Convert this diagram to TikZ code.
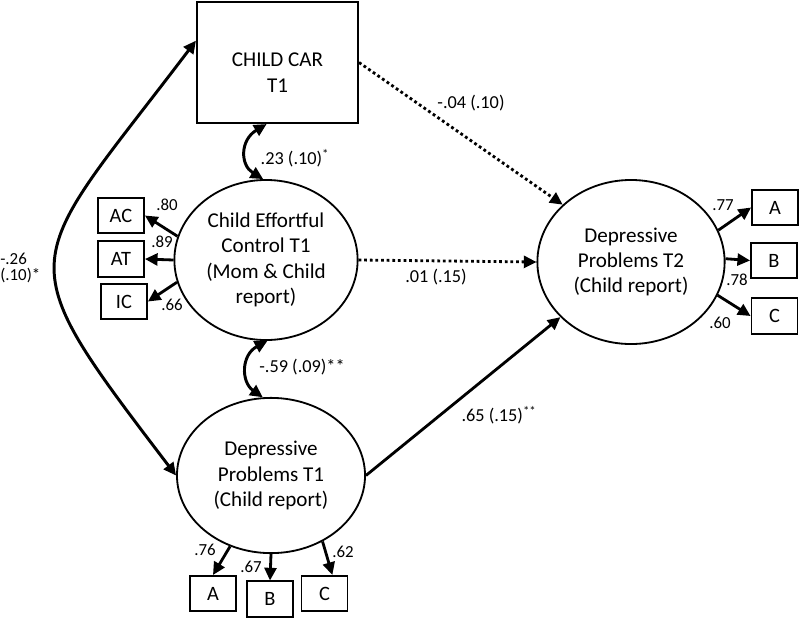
\documentclass[tikz,border=0pt]{standalone}
\usepackage{fontspec}
\setmainfont{Carlito}
\usetikzlibrary{shapes.geometric,arrows.meta}

\begin{document}
\begin{tikzpicture}[
    x=0.025cm, y=-0.025cm,
    latent/.style={ellipse, draw, line width=1.3pt, align=center, inner sep=0pt, font=\fontsize{15}{18}\selectfont},
    indicator/.style={rectangle, draw, line width=1.3pt, inner sep=0pt, minimum width=1.15cm, minimum height=0.88cm, font=\fontsize{14.5}{16}\selectfont},
    regress/.style={draw, line width=2pt, -{Triangle[length=9pt,width=8.5pt]}},
    nonsig/.style={regress, dash pattern=on 2pt off 2pt},
    covar/.style={draw, line width=2.1pt, {Triangle[length=9pt,width=8.5pt]}-{Triangle[length=9pt,width=8.5pt]}},
    loading/.style={regress},
    weight/.style={font=\fontsize{12}{13}\selectfont, inner sep=1pt},
    coef/.style={font=\fontsize{13}{14}\selectfont, inner sep=1pt}
]
\useasboundingbox (0,0) rectangle (800,619);

% Define constructs
\node[draw, line width=1.3pt, minimum width=4.03cm, minimum height=3.03cm, align=center, font=\fontsize{15}{18}\selectfont] (car) at (277.5,62.5) {\rule{0pt}{24pt}CHILD CAR\\T1};
\node[latent, minimum width=4.58cm, minimum height=4cm] (ec) at (266,260) {Child Effortful\\Control T1\\(Mom \& Child\\report)};
\node[latent, minimum width=4.7cm, minimum height=3.88cm] (dp1) at (271,475.5) {Depressive\\Problems T1\\(Child report)};
\node[latent, minimum width=4.68cm, minimum height=4.1cm] (dp2) at (631,262) {Depressive\\Problems T2\\(Child report)};

% Define indicators
\node[indicator] (ac) at (121,215.5) {AC};
\node[indicator] (at) at (121,259) {AT};
\node[indicator] (ic) at (124,301.5) {IC};
\node[indicator] (dp1a) at (213,593.5) {A};
\node[indicator] (dp1b) at (270,599) {B};
\node[indicator] (dp1c) at (324.5,593.5) {C};
\node[indicator] (dp2a) at (775,207.5) {A};
\node[indicator] (dp2b) at (774,260.5) {B};
\node[indicator] (dp2c) at (774.5,316) {C};

% Define loadings
\path[loading] (ec.165) -- (ac.east);
\path[loading] (ec.west) -- (at.east);
\path[loading] (ec.194) -- (ic.east);
\path[loading] (dp1.240) -- (dp1a.north);
\path[loading] (dp1.south) -- (dp1b.north);
\path[loading] (dp1.308) -- (dp1c.67);
\path[loading] (dp2.20) -- (dp2a.west);
\path[loading] (dp2.2) -- (dp2b.west);
\path[loading] (dp2.339) -- (dp2c.west);

% Define structural paths
\path[covar] (dp1.west) .. controls (4,250) and (22,270) .. (car.165);
\path[covar] (car.260) .. controls (240,140) and (240,165) .. (ec.92);
\path[covar] (ec.271) .. controls (241,355) and (241,382) .. (dp1.96);
\path[nonsig] (car.east) -- (dp2.140);
\path[nonsig] (ec.east) -- (dp2.west);
\path[regress] (dp1.east) -- (dp2.218);

% Define weights
\node[weight] (w80) at (167,205) {.80};
\node[weight] (w89) at (162,242) {.89};
\node[weight] (w66) at (172,305) {.66};
\node[weight] (w76) at (205,550) {.76};
\node[weight] (w67) at (251,567) {.67};
\node[weight] (w62) at (343,552) {.62};
\node[weight] (w77) at (723,205) {.77};
\node[weight] (w78) at (737,280) {.78};
\node[weight] (w60) at (720,323) {.60};

% Define coefficients
\node[coef] (c23) at (295,158) {.23 (.10)\textsuperscript{*}};
\node[coef] (c04) at (471,103) {-.04 (.10)};
\node[coef] (c01) at (436,277) {.01 (.15)};
\node[coef] (c59) at (302,367) {-.59 (.09)**};
\node[coef] (c65) at (499,415) {.65 (.15)\textsuperscript{**}};
\node[coef, font=\fontsize{12}{11}\selectfont, align=left, anchor=west, inner sep=0pt] (c26) at (0,268) {-.26\\(.10)*};

\end{tikzpicture}
\end{document}
